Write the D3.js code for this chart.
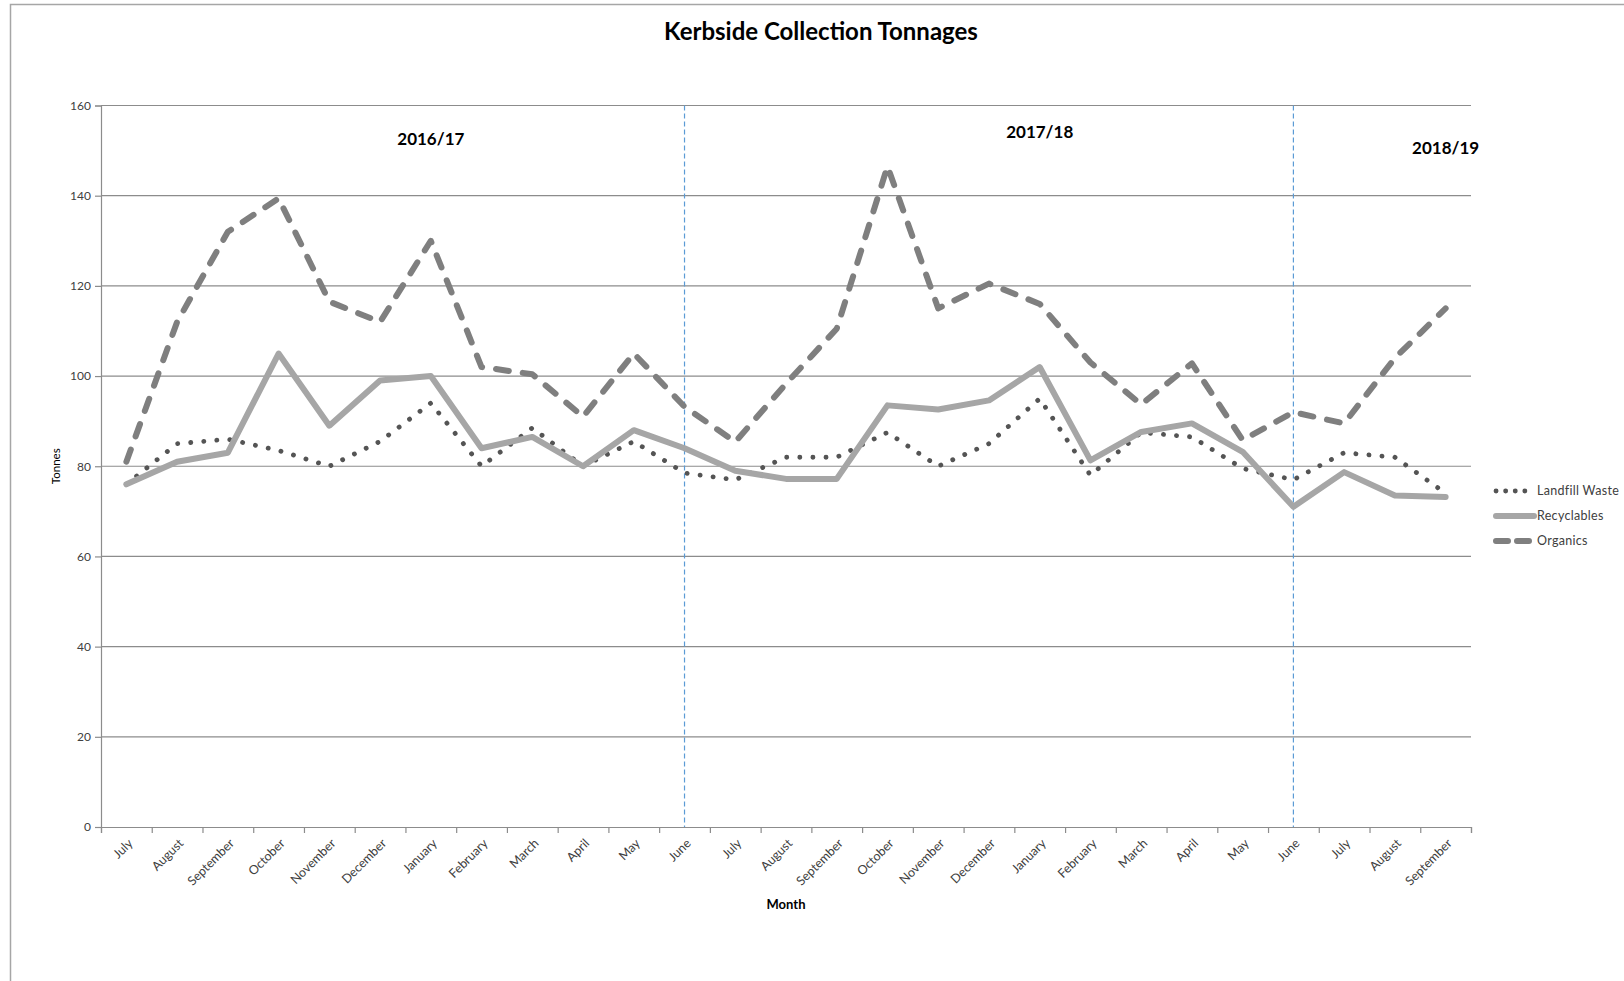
<!DOCTYPE html>
<html>
<head>
<meta charset="utf-8">
<script src="https://cdn.jsdelivr.net/npm/d3@7"></script>
<style>
  body { margin: 0; background: #fff; }
  svg { display: block; font-family: Lato, "Open Sans", "Liberation Sans", sans-serif; }
</style>
</head>
<body>
<svg id="chart" width="1624" height="981"></svg>
<script>
// Monthly kerbside collection tonnages, July 2016 – September 2018
const months = [
  "July", "August", "September", "October", "November", "December",
  "January", "February", "March", "April", "May", "June",
  "July", "August", "September", "October", "November", "December",
  "January", "February", "March", "April", "May", "June",
  "July", "August", "September"
];
const financialYears = ["2016/17", "2017/18", "2018/19"];

const landfillWaste = [
  76, 85, 86, 83.5, 80, 85.5, 94, 80, 88.5, 80, 85.5, 78.5,
  77, 82, 82, 87.5, 80, 85, 95, 78, 87.5, 86.5, 79.5, 77,
  83, 82, 74
];
const recyclables = [
  76, 81, 83, 105, 89, 99, 100, 84, 86.5, 80, 88, 84,
  79, 77.2, 77.2, 93.5, 92.6, 94.6, 102, 81.3, 87.6, 89.5, 83.2, 71,
  78.7, 73.5, 73.2
];
const organics = [
  81, 112, 132, 139.4, 116.5, 112, 130, 102, 100.4, 91, 105, 93.2,
  85.4, 98.3, 110.5, 146.5, 115, 120.5, 116, 103, 93.7, 102.8, 85.8, 92,
  89.5, 104, 115
];
const yTicks = [0, 20, 40, 60, 80, 100, 120, 140, 160];

const seriesNames = ["Landfill Waste", "Recyclables", "Organics"];

// ---- layout ----
const svg = d3.select("#chart");
const plot = { left: 101, right: 1471, top: 105.5, bottom: 827 };

const idx = d3.range(months.length);
const x = d3.scaleBand().domain(idx).range([plot.left, plot.right]).padding(0);
const xEdge = d3.scaleLinear().domain([0, months.length]).range([plot.left, plot.right]);
const y = d3.scaleLinear().domain([0, 160]).range([plot.bottom, plot.top]);
const cx = i => x(i) + x.bandwidth() / 2;

const axisColor = "#8c8c8c";
const textColor = "#404040";

// chart frame
svg.append("rect")
  .attr("x", 10.5).attr("y", 4.5)
  .attr("width", 1700).attr("height", 1100)
  .attr("fill", "none").attr("stroke", "#a6a6a6").attr("stroke-width", 1.5);

// title
svg.append("text")
  .attr("x", 821).attr("y", 40)
  .attr("text-anchor", "middle")
  .attr("font-size", 24).attr("font-weight", 700).attr("fill", "#000")
  .text("Kerbside Collection Tonnages");

// horizontal gridlines
svg.append("g")
  .selectAll("line")
  .data(yTicks.filter(d => d > 0))
  .join("line")
  .attr("x1", plot.left).attr("x2", plot.right)
  .attr("y1", d => y(d)).attr("y2", d => y(d))
  .attr("stroke", axisColor).attr("stroke-width", 1.2);

// y axis
const yAxis = svg.append("g")
  .attr("transform", `translate(${plot.left},0)`)
  .call(d3.axisLeft(y).tickValues(yTicks).tickSize(6).tickPadding(4));
yAxis.select(".domain").attr("stroke", axisColor).attr("stroke-width", 1.2);
yAxis.selectAll(".tick line").attr("stroke", axisColor).attr("stroke-width", 1.2);
yAxis.selectAll(".tick text")
  .attr("font-size", 12).attr("fill", textColor)
  .attr("font-family", "Lato, 'Open Sans', sans-serif");

// x axis: tick marks on category boundaries
const xTickAxis = svg.append("g")
  .attr("transform", `translate(0,${plot.bottom})`)
  .call(d3.axisBottom(xEdge).tickValues(d3.range(months.length + 1)).tickSize(6).tickFormat(""));
xTickAxis.select(".domain").attr("stroke", axisColor).attr("stroke-width", 1.2);
xTickAxis.selectAll(".tick line").attr("stroke", axisColor).attr("stroke-width", 1.2);

// x axis: month labels centred under categories
const xLabelAxis = svg.append("g")
  .attr("transform", `translate(0,${plot.bottom})`)
  .call(d3.axisBottom(x).tickSize(0).tickFormat(i => months[i]));
xLabelAxis.select(".domain").remove();
xLabelAxis.selectAll(".tick text")
  .attr("font-size", 12.5).attr("fill", textColor)
  .attr("font-family", "Lato, 'Open Sans', sans-serif")
  .attr("text-anchor", "end")
  .attr("y", 0).attr("dy", "0.35em")
  .attr("transform", "translate(4,14) rotate(-45)");

// axis titles
svg.append("text")
  .attr("transform", `translate(60,${(plot.top + plot.bottom) / 2}) rotate(-90)`)
  .attr("text-anchor", "middle")
  .attr("font-size", 11.5).attr("fill", "#000")
  .text("Tonnes");
svg.append("text")
  .attr("x", (plot.left + plot.right) / 2).attr("y", 909)
  .attr("text-anchor", "middle")
  .attr("font-size", 13).attr("font-weight", 700).attr("fill", "#000")
  .text("Month");

// financial year dividers at each June
const dividers = idx.filter(i => months[i] === "June");
svg.append("g")
  .selectAll("line")
  .data(dividers)
  .join("line")
  .attr("x1", d => cx(d)).attr("x2", d => cx(d))
  .attr("y1", plot.top).attr("y2", plot.bottom)
  .attr("stroke", "#5b9bd5").attr("stroke-width", 1.2)
  .attr("stroke-dasharray", "5,3");

// financial year labels
const yearLabelAt = [
  { i: 6, v: 151.3 },
  { i: 18, v: 152.8 },
  { i: 26, v: 149.2 }
];
svg.append("g")
  .selectAll("text")
  .data(financialYears)
  .join("text")
  .attr("x", (d, k) => cx(yearLabelAt[k].i))
  .attr("y", (d, k) => y(yearLabelAt[k].v))
  .attr("text-anchor", "middle")
  .attr("font-size", 17).attr("font-weight", 700).attr("fill", "#000")
  .text(d => d);

// series
const styles = [
  { color: "#545454", width: 4.8, dash: "0.1,13" },
  { color: "#a6a6a6", width: 6, dash: null },
  { color: "#7f7f7f", width: 6, dash: "13,14" }
];
const seriesData = [landfillWaste, recyclables, organics];
const line = d3.line().x((d, i) => cx(i)).y(d => y(d));

svg.append("g")
  .selectAll("path")
  .data(seriesData)
  .join("path")
  .attr("d", d => line(d))
  .attr("fill", "none")
  .attr("stroke", (d, k) => styles[k].color)
  .attr("stroke-width", (d, k) => styles[k].width)
  .attr("stroke-linecap", "round")
  .attr("stroke-linejoin", "round")
  .attr("stroke-dasharray", (d, k) => styles[k].dash);

// legend
const legend = svg.append("g").attr("transform", "translate(1494,491)");
const items = legend.selectAll("g")
  .data(seriesNames)
  .join("g")
  .attr("transform", (d, k) => `translate(0,${k * 25})`);
items.append("line")
  .attr("x1", 2).attr("x2", 40).attr("y1", 0).attr("y2", 0)
  .attr("stroke", (d, k) => styles[k].color)
  .attr("stroke-width", (d, k) => styles[k].width)
  .attr("stroke-linecap", "round")
  .attr("stroke-dasharray", (d, k) => k === 0 ? "0.1,9.5" : (k === 2 ? "12,9" : null));
items.append("text")
  .attr("x", 43).attr("y", 0).attr("dy", "0.35em")
  .attr("font-size", 12.5).attr("letter-spacing", 0.3).attr("fill", textColor)
  .text(d => d);
</script>
</body>
</html>
